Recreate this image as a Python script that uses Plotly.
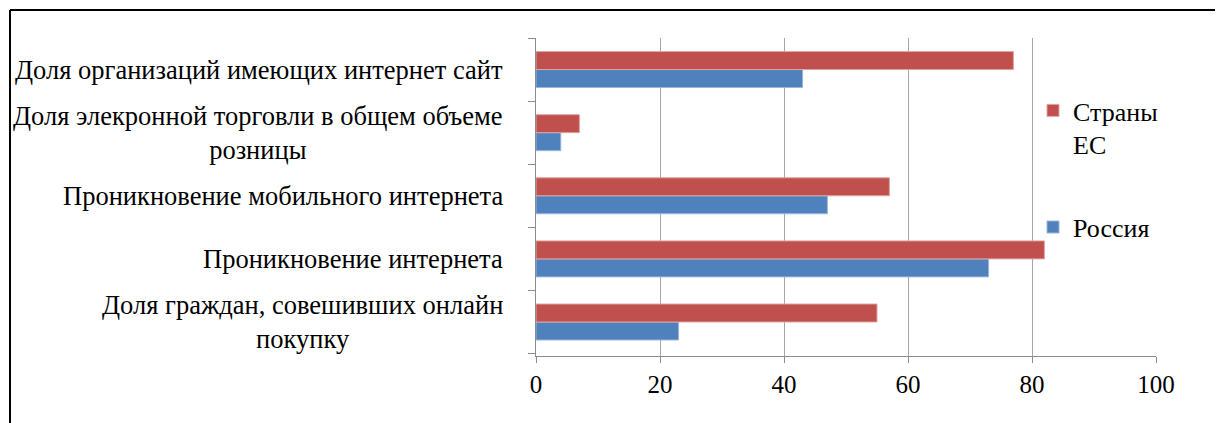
import plotly.graph_objects as go

categories = [
    "Доля граждан, совешивших онлайн<br>покупку",
    "Проникновение интернета",
    "Проникновение мобильного интернета",
    "Доля элекронной торговли в общем объеме<br>розницы",
    "Доля организаций имеющих интернет сайт",
]
russia = [23, 73, 47, 4, 43]
eu = [55, 82, 57, 7, 77]
series_names = ["Россия", "Страны<br>ЕС"]
x_ticks = [0, 20, 40, 60, 80, 100]

FONT = "Liberation Serif, Times New Roman, serif"
OFF = 8  # default page body margin
W, H = 1223 - OFF, 423 - OFF
L = 536 - OFF
T = 38 - OFF
R = W - (1156 - OFF)
B = H - (356 - OFF)
pw, ph = W - L - R, H - T - B

fig = go.Figure()
fig.add_trace(go.Bar(
    y=categories, x=russia, orientation="h", name=series_names[0],
    legendgroup="ru", legendrank=2,
    marker=dict(color="#4F81BD", line=dict(color="#9DB6DA", width=1)),
))
fig.add_trace(go.Bar(
    y=categories, x=eu, orientation="h", name=series_names[1],
    legendgroup="eu", legendrank=1,
    marker=dict(color="#C0504D", line=dict(color="#E0A4A2", width=1)),
))

annotations = []
for c in categories:
    annotations.append(dict(
        xref="paper", yref="y", x=0, y=c, xanchor="right", yanchor="middle",
        xshift=-31, text=c, showarrow=False, align="center",
        font=dict(family=FONT, size=26.5, color="black"),
    ))

fx0 = (10 - OFF - L) / pw
fy0 = 1 + (T - (10 - OFF)) / ph
shapes = [
    dict(type="line", xref="paper", yref="paper", x0=fx0, x1=(W + 10 - L) / pw,
         y0=fy0, y1=fy0, line=dict(color="black", width=2)),
    dict(type="line", xref="paper", yref="paper", x0=fx0, x1=fx0,
         y0=fy0, y1=-(B + 10) / ph, line=dict(color="black", width=2)),
]

fig.update_layout(
    width=W, height=H,
    margin=dict(l=L, r=R, t=T, b=B),
    paper_bgcolor="white", plot_bgcolor="white",
    barmode="group", bargap=0.43, bargroupgap=0,
    font=dict(family=FONT, size=26, color="black"),
    showlegend=True,
    legend=dict(
        x=(1033 - OFF - L) / pw, y=1 - (87 - OFF - T) / ph,
        xanchor="left", yanchor="top", valign="top",
        traceorder="grouped", tracegroupgap=46,
        bgcolor="rgba(0,0,0,0)", font=dict(family=FONT, size=26, color="black"),
        itemwidth=30,
    ),
    xaxis=dict(
        range=[0, 100], tickvals=x_ticks, ticktext=[str(v) for v in x_ticks],
        showgrid=True, gridcolor="#A6A6A6", gridwidth=1,
        showline=True, linecolor="#8C8C8C", linewidth=1,
        ticks="outside", ticklen=6, tickcolor="#8C8C8C",
        zeroline=False, fixedrange=True,
        tickfont=dict(family=FONT, size=25, color="black"),
    ),
    yaxis=dict(
        categoryorder="array", categoryarray=categories,
        showticklabels=False, showgrid=False,
        showline=True, linecolor="#8C8C8C", linewidth=1,
        ticks="outside", ticklen=7, tickcolor="#8C8C8C", tickson="boundaries",
        zeroline=False, fixedrange=True,
    ),
    annotations=annotations,
    shapes=shapes,
)

fig.write_html("out.html")
